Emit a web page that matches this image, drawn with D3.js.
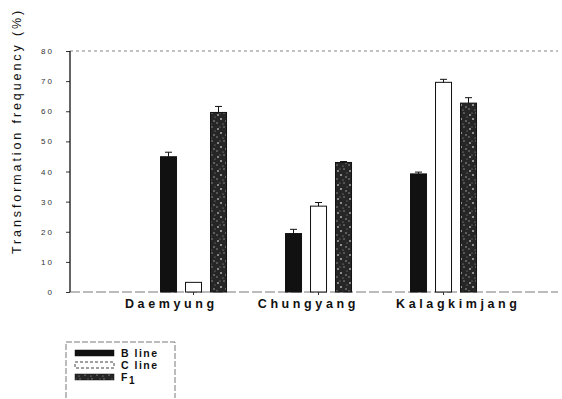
<!DOCTYPE html>
<html><head><meta charset="utf-8">
<script src="https://cdn.jsdelivr.net/npm/d3@7"></script>
<style>body{margin:0;background:#fff}svg{display:block}</style>
</head><body><svg id="c" width="562" height="399"></svg>
<script>
const categories = ["Daemyung", "Chungyang", "Kalagkimjang"];
const seriesNames = ["B line", "C line", "F1"];
const bLine = [44.9, 19.4, 39.2];
const cLine = [3.2, 28.5, 69.6];
const f1 = [59.6, 43.0, 62.7];
const bErr = [1.5, 1.4, 0.6];
const cErr = [0, 1.2, 1.0];
const f1Err = [2.0, 0.3, 1.8];
const yTicks = [0, 10, 20, 30, 40, 50, 60, 70, 80];

const values = [bLine, cLine, f1];
const errs = [bErr, cErr, f1Err];
// layout: label shifts relative to tick (as in original figure)
const labelShift = [-24, -12, 13];

const svg = d3.select("#c");
const defs = svg.append("defs");
const pat = defs.append("pattern").attr("id","speck").attr("patternUnits","userSpaceOnUse")
  .attr("width",12).attr("height",14);
pat.append("rect").attr("width",12).attr("height",14).attr("fill","#262626");
[[2,3,1.0],[8,1,0.7],[5,7,1.1],[10,9,0.8],[1,11,0.7],[7,12,0.6],[4,1,0.5],[11,5,0.5]].forEach(d=>{
  pat.append("circle").attr("cx",d[0]).attr("cy",d[1]).attr("r",d[2]).attr("fill","#a8a8a8");
});

const x0 = 70, x1 = 558, yTop = 51, yBot = 292;
const y = d3.scaleLinear().domain([0, 80]).range([yBot, yTop]);
const x = d3.scaleBand().domain(categories).range([x0, x1]).paddingInner(0).paddingOuter(0.452).align(0.54);
const xs = d3.scaleBand().domain(seriesNames).range([0, x.bandwidth()]).paddingInner(0.36).paddingOuter(1.18);

const fills = ["#111", "#fff", "url(#speck)"];

// top dashed line
svg.append("line").attr("x1",x0).attr("x2",x1).attr("y1",yTop).attr("y2",yTop)
  .attr("stroke","#666").attr("stroke-width",0.8).attr("stroke-dasharray","3,3");
// baseline
svg.append("line").attr("x1",x0).attr("x2",x1).attr("y1",yBot).attr("y2",yBot)
  .attr("stroke","#555").attr("stroke-width",0.8).attr("stroke-dasharray","10,3");

// bars
categories.forEach((c, i) => {
  seriesNames.forEach((s, j) => {
    const v = values[j][i], e = errs[j][i];
    const bx = x(c) + xs(s), bw = xs.bandwidth();
    svg.append("rect").attr("x", bx).attr("y", y(v)).attr("width", bw).attr("height", yBot - y(v))
      .attr("fill", fills[j]).attr("stroke", "#111").attr("stroke-width", 1);
    if (e > 0) {
      const cx = bx + bw/2;
      svg.append("line").attr("x1",cx).attr("x2",cx).attr("y1",y(v)).attr("y2",y(v+e)).attr("stroke","#111");
      svg.append("line").attr("x1",cx-3.5).attr("x2",cx+3.5).attr("y1",y(v+e)).attr("y2",y(v+e)).attr("stroke","#111");
    }
  });
});

// y axis
const yAxis = d3.axisLeft(y).tickValues(yTicks).tickSize(4).tickPadding(14)
  .tickFormat(d => String(d).split("").join(" "));
const gy = svg.append("g").attr("transform", `translate(${x0},0)`).call(yAxis);
gy.select(".domain").remove();
gy.append("line").attr("x1",0).attr("x2",0).attr("y1",yTop).attr("y2",yBot).attr("stroke","#111").attr("stroke-width",1.3);
gy.selectAll(".tick text").attr("font-family","Liberation Sans, Arial, sans-serif").attr("font-size",8).attr("fill","#333");
gy.selectAll(".tick line").attr("stroke","#333");

// x axis labels
const xAxis = d3.axisBottom(x).tickSize(3).tickPadding(4);
const gx = svg.append("g").attr("transform", `translate(0,${yBot})`).call(xAxis);
gx.select(".domain").remove();
gx.selectAll(".tick line").attr("stroke","#333");
gx.selectAll(".tick text").attr("font-family","Liberation Sans, Arial, sans-serif").attr("font-size",12.5)
  .attr("font-weight","bold").attr("letter-spacing","3.6px").attr("fill","#111").attr("dy","0.75em")
  .attr("dx", (d, i) => labelShift[i] + 1.8);

// y label
svg.append("text").attr("transform","translate(21,131) rotate(-90)").attr("text-anchor","middle")
  .attr("font-family","Liberation Sans, Arial, sans-serif").attr("font-size",12.5).attr("letter-spacing","2.9px")
  .attr("fill","#111").text("Transformation frequency (%)");

// legend
const lg = svg.append("g");
lg.append("path").attr("d","M66,398 L66,342 L175,342 L175,398").attr("fill","none").attr("stroke","#555").attr("stroke-width",0.8).attr("stroke-dasharray","6,2");
const legY = [353, 365, 377];
seriesNames.forEach((s, j) => {
  lg.append("rect").attr("x",75).attr("y",legY[j]-3).attr("width",39).attr("height",6)
    .attr("fill",fills[j]).attr("stroke","#111").attr("stroke-width",j===1?0.8:0.5)
    .attr("stroke-dasharray", j===1 ? "3,2" : null);
  const t = lg.append("text").attr("x",121).attr("y",legY[j]+4).attr("font-family","Liberation Sans, Arial, sans-serif")
    .attr("font-size",10.5).attr("font-weight","bold").attr("letter-spacing","1.5px").attr("fill","#111");
  if (s === "F1") { t.text("F"); t.append("tspan").attr("dy",3).attr("font-size",10).text("1"); }
  else t.text(s.replace(" ", "  "));
});
</script></body></html>
